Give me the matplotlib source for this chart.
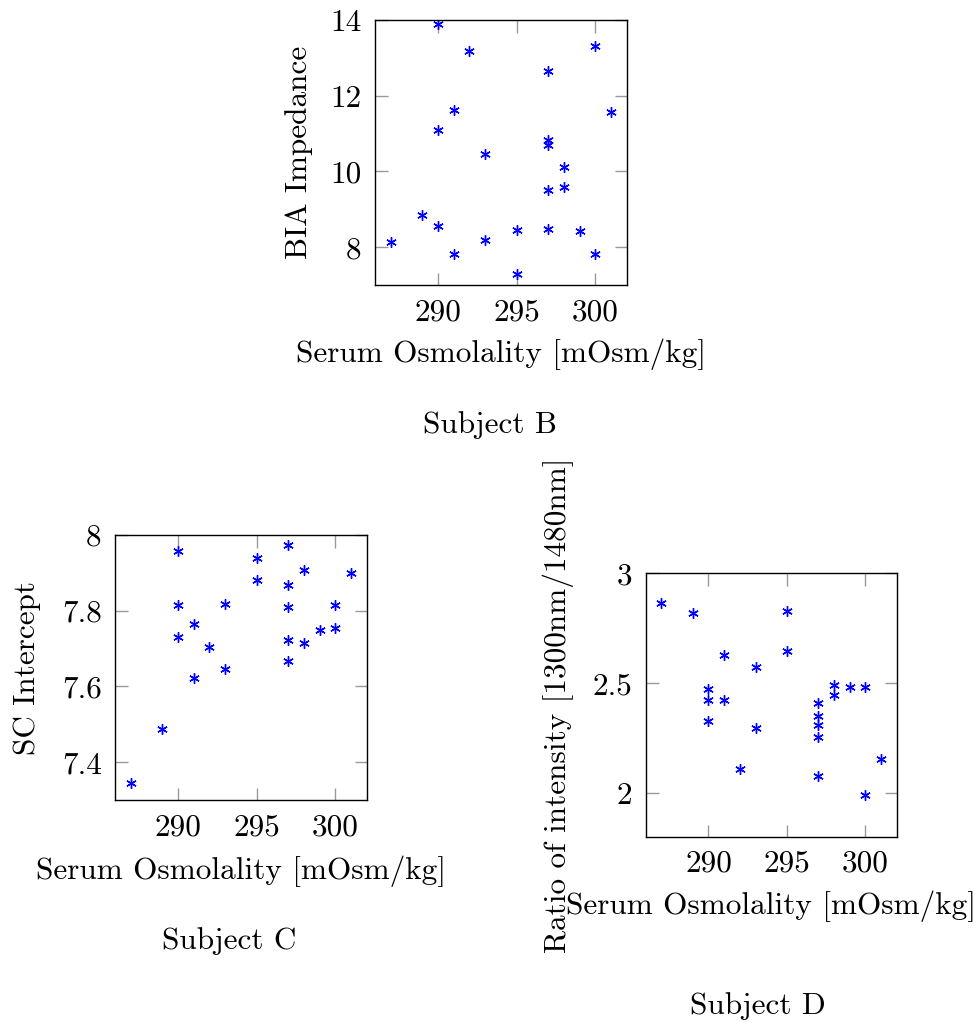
"""
Serum osmolality vs. three measures (Subjects B, C, D)
"""

import matplotlib

matplotlib.use("Agg")
import matplotlib.pyplot as plt

# 共通のx値 (mOsm/kg)
serum = [287, 289, 290, 290, 290, 291, 291, 292, 293, 293, 295, 295,
         297, 297, 297, 297, 297, 298, 298, 299, 300, 300, 301]

# Subject B
bia = [8.13, 8.84, 13.90, 11.10, 8.55, 11.63, 7.82, 13.17, 10.47, 8.18, 8.45, 7.29,
       12.66, 10.84, 10.70, 9.52, 8.48, 10.13, 9.59, 8.42, 13.32, 7.81, 11.57]

# Subject C
sc = [7.345, 7.488, 7.959, 7.816, 7.730, 7.766, 7.623, 7.704, 7.818, 7.647, 7.939, 7.881,
      7.974, 7.867, 7.809, 7.723, 7.668, 7.907, 7.716, 7.750, 7.816, 7.754, 7.900]

# Subject D
ratio = [2.866, 2.821, 2.474, 2.422, 2.327, 2.628, 2.422, 2.108, 2.572, 2.297, 2.828, 2.648,
         2.411, 2.350, 2.309, 2.253, 2.078, 2.489, 2.444, 2.480, 2.483, 1.989, 2.155]

x_ticks = [290, 295, 300]
x_label = "Serum Osmolality [mOsm/kg]"

panels = [
    {
        "y": bia, "ylabel": "BIA Impedance", "ylim": (7, 14),
        "yticks": [8, 10, 12, 14], "yticklabels": ["8", "10", "12", "14"],
        "rect": [0.3842, 0.7211, 0.2582, 0.2593],
        "ylabel_x": -0.246, "xlabel_y": -0.2,
        "caption": "Subject B", "cap_xy": (490, 433),
    },
    {
        "y": sc, "ylabel": "SC Intercept", "ylim": (7.3, 8.0),
        "yticks": [7.4, 7.6, 7.8, 8.0], "yticklabels": ["7.4", "7.6", "7.8", "8"],
        "rect": [0.1178, 0.2172, 0.2582, 0.2593],
        "ylabel_x": -0.294, "xlabel_y": -0.208,
        "caption": "Subject C", "cap_xy": (229, 949),
    },
    {
        "y": ratio, "ylabel": "Ratio of intensity [1300nm/1480nm]", "ylim": (1.8, 3.0),
        "yticks": [2, 2.5, 3], "yticklabels": ["2", "2.5", "3"],
        "rect": [0.6616, 0.1813, 0.2572, 0.2577],
        "ylabel_x": -0.284, "xlabel_y": -0.203,
        "caption": "Subject D", "cap_xy": (758, 1014),
    },
]

plt.rcParams["font.family"] = ["cmr10", "DejaVu Serif"]
plt.rcParams["axes.formatter.use_mathtext"] = True
fs = 22.5

W, H = 976, 1022
fig = plt.figure(figsize=(W / 100, H / 100), dpi=100)

for p in panels:
    ax = fig.add_axes(p["rect"])
    ax.plot(serum, p["y"], linestyle="none", marker=(6, 2, 0), markersize=7.5,
            markeredgewidth=1.0, color="#0000ff")
    ax.set_xlim(286, 302)
    ax.set_ylim(*p["ylim"])
    ax.set_xticks(x_ticks)
    ax.set_xticklabels([str(v) for v in x_ticks])
    ax.set_yticks(p["yticks"])
    ax.set_yticklabels(p["yticklabels"])
    ax.tick_params(direction="in", length=9, width=1, color="#999999",
                   top=True, right=True, labelsize=fs, pad=9.5)
    for s in ax.spines.values():
        s.set_linewidth(1.0)
    ax.set_xlabel(x_label, fontsize=fs)
    ax.set_ylabel(p["ylabel"], fontsize=fs)
    ax.xaxis.set_label_coords(0.5, p["xlabel_y"])
    ax.yaxis.set_label_coords(p["ylabel_x"], 0.5)
    cx, cy = p["cap_xy"]
    fig.text(cx / W, 1 - cy / H, p["caption"], fontsize=fs, ha="center", va="baseline")

fig.savefig("out.png", dpi=100)
